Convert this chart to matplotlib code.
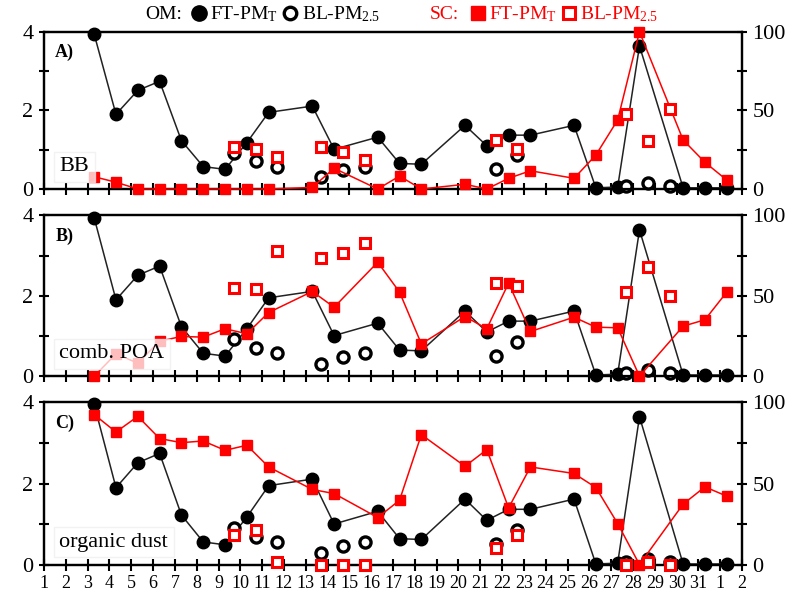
import numpy as np
import matplotlib.pyplot as plt
from matplotlib.lines import Line2D

plt.rcParams["font.family"] = ["Liberation Serif", "DejaVu Serif"]
plt.rcParams["mathtext.fontset"] = "custom"
plt.rcParams["mathtext.rm"] = "Liberation Serif"
plt.rcParams["mathtext.it"] = "Liberation Serif:italic"

# dni pomiarowe (1..31 sierpnia, potem 1, 2 wrzesnia -> 32, 33)
x_ticklabels = [str(d) for d in range(1, 32)] + ["1", "2"]

# OM FT-PM_T (lewa os), te same we wszystkich panelach
om_ft_x = [3.3, 4.3, 5.3, 6.3, 7.3, 8.3, 9.3, 10.3, 11.3, 13.3, 14.3, 16.3, 17.3,
           18.3, 20.3, 21.3, 22.3, 23.3, 25.3, 26.3, 27.3, 28.3, 30.3, 31.3, 32.3]
om_ft_y = [3.94, 1.90, 2.51, 2.74, 1.23, 0.57, 0.50, 1.18, 1.95, 2.11, 1.01, 1.32, 0.65,
           0.63, 1.62, 1.10, 1.37, 1.37, 1.62, 0.03, 0.05, 3.64, 0.03, 0.03, 0.03]

# OM BL-PM2.5 (lewa os)
om_bl_x = [9.7, 10.7, 11.7, 13.7, 14.7, 15.7, 21.7, 22.7, 27.7, 28.7, 29.7]
om_bl_y = [0.92, 0.70, 0.57, 0.31, 0.48, 0.57, 0.51, 0.86, 0.08, 0.15, 0.08]

# SC FT-PM_T (prawa os, %) dla BB, comb. POA, organic dust
sc_ft_x = om_ft_x
sc_ft_bb = [7.8, 4.3, 0, 0, 0, 0, 0, 0, 0, 1, 13.2, 0, 8.2,
            0, 3, 0, 6.8, 11.6, 6.8, 21.6, 43.9, 100, 31.2, 17.0, 5.7]
sc_ft_poa = [0, 13.9, 8.1, 21.8, 24.7, 24.3, 29.5, 26.4, 39.6, 52.7, 42.9, 70.9, 52.3,
             20.1, 37.1, 29.5, 57.9, 27.8, 36.7, 30.5, 30.1, 0, 31.1, 35.1, 52.3]
sc_ft_dust = [92.3, 81.6, 91.2, 77.6, 75.1, 76.1, 70.4, 73.5, 60.2, 46.4, 43.9, 29.2, 39.8,
              80.0, 60.6, 70.8, 35.1, 60.2, 56.2, 47.6, 25.5, 0.4, 37.4, 48.0, 42.3]

# SC BL-PM2.5 (prawa os, %)
sc_bl_x = om_bl_x
sc_bl_bb = [26.9, 25.4, 20.5, 26.5, 23.3, 18.4, 31.2, 25.2, 47.7, 30.5, 50.7]
sc_bl_poa = [55.0, 54.0, 77.6, 73.4, 76.5, 82.8, 58.1, 56.4, 52.3, 67.8, 49.6]
sc_bl_dust = [18.8, 21.4, 2.0, 0, 0, 0, 10.8, 18.4, 0, 2.0, 0]

panels = [("A)", "BB", sc_ft_bb, sc_bl_bb),
          ("B)", "comb. POA", sc_ft_poa, sc_bl_poa),
          ("C)", "organic dust", sc_ft_dust, sc_bl_dust)]

fig = plt.figure(figsize=(8, 6), dpi=100)
# [bottom, height] w ulamkach figury
boxes = [(0.685, 0.262), (0.373, 0.268), (0.058, 0.272)]
left, width = 0.055, 0.8725

for i, (tag, name, ft, bl) in enumerate(panels):
    bottom, height = boxes[i]
    ax = fig.add_axes([left, bottom, width, height])
    ax2 = ax.twinx()

    ax.plot(om_ft_x, om_ft_y, color="#222222", lw=1.1, marker="o", ms=9,
            mfc="black", mec="black", clip_on=False, zorder=3)
    ax.plot(om_bl_x, om_bl_y, ls="none", marker="o", ms=8, mfc="white",
            mec="black", mew=2.4, clip_on=False, zorder=3)
    ax2.plot(sc_ft_x, ft, color="red", lw=1.1, marker="s", ms=7.5,
             mfc="red", mec="red", clip_on=False, zorder=3)
    ax2.plot(sc_bl_x, bl, ls="none", marker="s", ms=7, mfc="white",
             mec="red", mew=2.2, clip_on=False, zorder=3)

    ax.set_xlim(1, 33)
    ax.set_ylim(0, 4)
    ax2.set_ylim(0, 100)
    ax.set_xticks(np.arange(1, 34))
    if i == 2:
        ax.set_xticklabels(x_ticklabels, fontsize=13)
    else:
        ax.set_xticklabels([])
    ax.set_yticks([0, 2, 4])
    ax.set_yticks([1, 3], minor=True)
    ax2.set_yticks([0, 50, 100])
    ax2.set_yticks([25, 75], minor=True)
    ax.tick_params(axis="y", labelsize=16, direction="inout", length=7, width=1.5, pad=4)
    ax.tick_params(axis="y", which="minor", direction="inout", length=7, width=1.5)
    ax.tick_params(axis="x", direction="inout", length=8, width=1.5, pad=3)
    ax2.tick_params(axis="y", labelsize=16, direction="inout", length=7, width=1.5, pad=4)
    ax2.tick_params(axis="y", which="minor", direction="inout", length=7, width=1.5)
    for a in (ax, ax2):
        for s in a.spines.values():
            s.set_linewidth(1.6)

    ax2.text(0.016, 0.87, tag, transform=ax.transAxes, fontsize=13,
             fontweight="bold", va="center", ha="left")
    ax2.text(0.022, 0.14, name, transform=ax.transAxes, fontsize=16,
             va="center", ha="left", zorder=5,
             bbox=dict(boxstyle="square,pad=0.25", fc="white", ec="#eeeeee",
                       alpha=0.75))

# legenda na gorze
om_handles = [Line2D([], [], ls="none", marker="o", ms=11, mfc="black", mec="black"),
              Line2D([], [], ls="none", marker="o", ms=9, mfc="white", mec="black", mew=2.4)]
sc_handles = [Line2D([], [], ls="none", marker="s", ms=10, mfc="red", mec="red"),
              Line2D([], [], ls="none", marker="s", ms=8, mfc="white", mec="red", mew=2.2)]
labels = ["FT-PM$_{\\mathrm{T}}$", "BL-PM$_{2.5}$"]

fig.text(0.182, 0.976, "OM:", fontsize=14, ha="left", va="center")
leg1 = fig.legend(om_handles, labels, loc="center left", bbox_to_anchor=(0.236, 0.976),
                  ncol=2, frameon=False, fontsize=14, handletextpad=0.1,
                  columnspacing=0.15, handlelength=1.0, borderpad=0, borderaxespad=0)
fig.text(0.537, 0.976, "SC:", fontsize=14, ha="left", va="center", color="red")
leg2 = fig.legend(sc_handles, labels, loc="center left", bbox_to_anchor=(0.585, 0.976),
                  ncol=2, frameon=False, fontsize=14, handletextpad=0.1,
                  columnspacing=0.1, handlelength=1.0, borderpad=0, borderaxespad=0)
for t in leg2.get_texts():
    t.set_color("red")

plt.savefig("out.png", dpi=100)
